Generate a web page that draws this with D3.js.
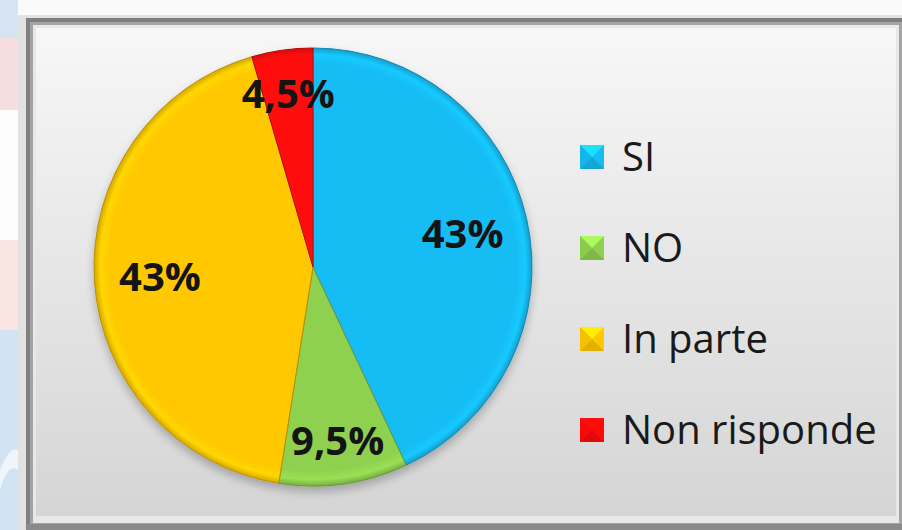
<!DOCTYPE html>
<html lang="it">
<head>
    <meta charset="UTF-8">
    <title>SI / NO / In parte / Non risponde</title>
    <script src="https://d3js.org/d3.v7.min.js"></script>
    <style>
        body {
            margin: 0;
            background: #ffffff;
            font-family: "Open Sans", Arial, sans-serif;
        }
        svg { display: block; }
        .pct {
            font-weight: 700;
            font-size: 40px;
            fill: #141414;
        }
        .legend text {
            font-size: 40px;
            fill: #1a1a1a;
        }
    </style>
</head>
<body>
    <svg id="chart" width="902" height="530"></svg>

    <script>
        // Data
        const categories = ["SI", "NO", "In parte", "Non risponde"];
        const values = [43, 9.5, 43, 4.5];
        const labels = ["43%", "9,5%", "43%", "4,5%"];
        const colors = ["#16bcf4", "#8fd14f", "#ffc800", "#ff0a0a"];

        const W = 902, H = 530;
        const svg = d3.select("#chart");
        const defs = svg.append("defs");

        // background behind the frame (faded page edge on the left)
        svg.append("rect").attr("width", W).attr("height", H).attr("fill", "#f9f9f9");
        const edge = svg.append("g");
        edge.append("rect").attr("x", 0).attr("y", 0).attr("width", 18).attr("height", 38).attr("fill", "#d6e4f2");
        edge.append("rect").attr("x", 0).attr("y", 38).attr("width", 18).attr("height", 72).attr("fill", "#f5dde0");
        edge.append("rect").attr("x", 0).attr("y", 110).attr("width", 18).attr("height", 130).attr("fill", "#fcfcfc");
        edge.append("rect").attr("x", 0).attr("y", 240).attr("width", 18).attr("height", 90).attr("fill", "#f8e4e0");
        edge.append("rect").attr("x", 0).attr("y", 330).attr("width", 18).attr("height", 200).attr("fill", "#d2e3f3");
        edge.append("path").attr("d", "M0,470 Q10,445 18,450 L18,470 Q8,462 0,490 Z").attr("fill", "#f0f5fb");

        // frame gradients
        const inner = defs.append("linearGradient").attr("id", "inner")
            .attr("x1", 0).attr("y1", 0).attr("x2", 0).attr("y2", 1);
        inner.append("stop").attr("offset", "0%").attr("stop-color", "#f7f7f7");
        inner.append("stop").attr("offset", "100%").attr("stop-color", "#d5d5d5");

        // frame: light bevel, dark groove, chart area
        svg.append("rect").attr("x", 18).attr("y", 10).attr("width", 884).attr("height", 520).attr("fill", "#e2e2e2");
        svg.append("rect").attr("x", 18).attr("y", 10).attr("width", 884).attr("height", 5).attr("fill", "#fbfbfb");
        svg.append("rect").attr("x", 26).attr("y", 18).attr("width", 876).attr("height", 512).attr("fill", "#808080");
        svg.append("rect").attr("x", 30).attr("y", 22).attr("width", 872).attr("height", 508).attr("fill", "#a4a4a4");
        svg.append("rect").attr("x", 33).attr("y", 25).attr("width", 866).attr("height", 498).attr("fill", "#e8e8e8");
        svg.append("rect").attr("x", 36).attr("y", 28).attr("width", 860).attr("height", 488).attr("fill", "url(#inner)");
        svg.append("rect").attr("x", 26).attr("y", 524).attr("width", 876).attr("height", 6).attr("fill", "#8a8a8a");

        // pie
        const cx = 313, cy = 267, r = 219;

        const shadow = defs.append("filter").attr("id", "shadow")
            .attr("x", "-20%").attr("y", "-20%").attr("width", "140%").attr("height", "140%");
        shadow.append("feGaussianBlur").attr("in", "SourceAlpha").attr("stdDeviation", 5).attr("result", "b");
        shadow.append("feOffset").attr("in", "b").attr("dy", 5).attr("result", "o");
        shadow.append("feComponentTransfer").attr("in", "o").attr("result", "s")
            .append("feFuncA").attr("type", "linear").attr("slope", 0.25);
        const merge = shadow.append("feMerge");
        merge.append("feMergeNode").attr("in", "s");
        merge.append("feMergeNode").attr("in", "SourceGraphic");

        // soft bevel shading for each slice (coordinates relative to pie centre)
        colors.forEach((c, i) => {
            const g = defs.append("radialGradient").attr("id", "slice" + i)
                .attr("gradientUnits", "userSpaceOnUse")
                .attr("cx", 0).attr("cy", 0).attr("r", r);
            g.append("stop").attr("offset", "0%").attr("stop-color", c);
            g.append("stop").attr("offset", "93%").attr("stop-color", c);
            g.append("stop").attr("offset", "97%").attr("stop-color", d3.color(c).brighter(0.2));
            g.append("stop").attr("offset", "100%").attr("stop-color", d3.color(c).darker(0.5));
        });

        const pie = d3.pie().sort(null).value(d => d);
        const arcs = pie(values);
        const arc = d3.arc().innerRadius(0).outerRadius(r);

        const pieG = svg.append("g")
            .attr("transform", `translate(${cx},${cy})`)
            .attr("filter", "url(#shadow)");

        pieG.selectAll("path")
            .data(arcs)
            .enter()
            .append("path")
            .attr("d", arc)
            .attr("fill", (d, i) => `url(#slice${i})`)
            .attr("stroke", (d, i) => d3.color(colors[i]).darker(0.9))
            .attr("stroke-width", 1);

        // percentage labels; small slices get pushed further out
        const labelG = svg.append("g").attr("transform", `translate(${cx},${cy})`);
        labelG.selectAll("text")
            .data(arcs)
            .enter()
            .append("text")
            .attr("class", "pct")
            .attr("text-anchor", "middle")
            .attr("dy", "0.36em")
            .attr("transform", d => {
                const lr = d.data < 10 ? r * 0.8 : r * 0.7;
                const c = d3.arc().innerRadius(lr).outerRadius(lr).centroid(d);
                return `translate(${c[0]},${c[1]})`;
            })
            .text((d, i) => labels[i]);

        // legend
        const legendY = d3.scalePoint().domain(categories).range([157, 430]);
        const sq = 24;
        const legend = svg.append("g").attr("class", "legend");

        categories.forEach((name, i) => {
            const y = legendY(name);
            const x0 = 580, y0 = y - sq / 2;
            const c = d3.color(colors[i]);
            const g = legend.append("g");
            // pyramid-style bevel square
            const mx = x0 + sq / 2, my = y;
            g.append("rect").attr("x", x0).attr("y", y0).attr("width", sq).attr("height", sq).attr("fill", c);
            g.append("path").attr("d", `M${x0},${y0}L${x0 + sq},${y0}L${mx},${my}Z`).attr("fill", c.brighter(0.5));
            g.append("path").attr("d", `M${x0},${y0 + sq}L${x0 + sq},${y0 + sq}L${mx},${my}Z`).attr("fill", c.darker(0.35));
            g.append("path").attr("d", `M${x0},${y0}L${x0},${y0 + sq}L${mx},${my}Z`).attr("fill", c.darker(0.1));
            g.append("text")
                .attr("x", 622)
                .attr("y", y)
                .attr("dy", "0.36em")
                .text(name);
        });
    </script>
</body>
</html>
